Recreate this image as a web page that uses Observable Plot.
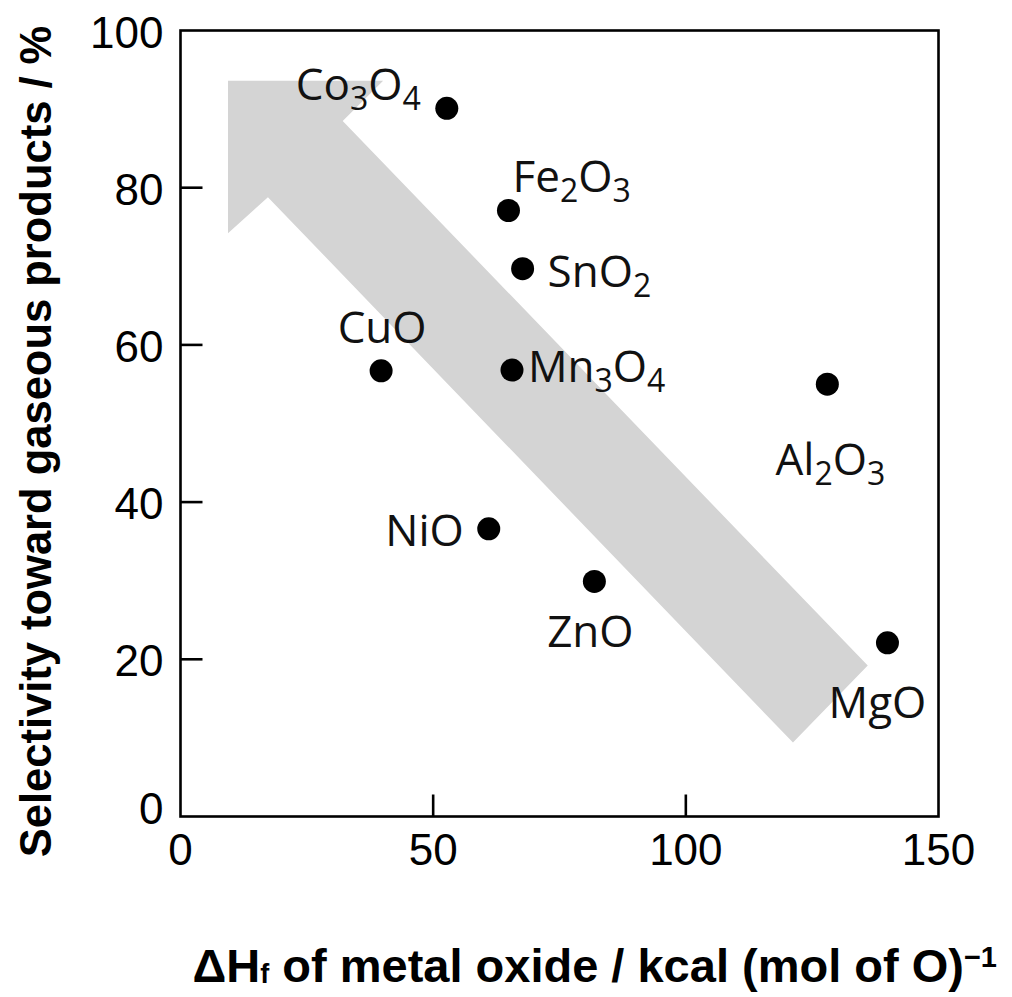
<!DOCTYPE html>
<html>
<head>
<meta charset="utf-8">
<script src="https://cdn.jsdelivr.net/npm/d3@7"></script>
<script src="https://cdn.jsdelivr.net/npm/@observablehq/plot@0.6"></script>
<style>
  html, body { margin: 0; padding: 0; background: #ffffff; }
  #chart svg { display: block; }
</style>
</head>
<body>
<div id="chart"></div>
<script>
// ---- data ----
const oxides      = ["Co3O4", "Fe2O3", "SnO2", "CuO", "Mn3O4", "Al2O3", "NiO", "ZnO", "MgO"];
const deltaHf     = [52.7, 64.9, 67.7, 39.7, 65.6, 128.0, 61.0, 81.9, 139.9];
const selectivity = [90.1, 77.1, 69.7, 56.7, 56.8, 55.0, 36.6, 29.9, 22.1];
const xTicks = [0, 50, 100, 150];
const yTicks = [0, 20, 40, 60, 80, 100];
// trend arrow outline (data units)
const arrowX = [9.4, 40.1, 32.1, 136.0, 121.2, 17.3, 9.4];
const arrowY = [93.6, 93.6, 88.5, 19.2, 9.4, 78.8, 74.2];
const xTitle = "ΔHf of metal oxide / kcal (mol of O)−1";
const yTitle = "Selectivity toward gaseous products / %";

// ---- label placement (styling, pixel offsets from each dot) ----
const labelLayout = {
  Co3O4: {anchor: "end",    dx: -26, dy: -8},
  Fe2O3: {anchor: "start",  dx: 4,   dy: -18},
  SnO2:  {anchor: "start",  dx: 25,  dy: 18},
  CuO:   {anchor: "middle", dx: 1,   dy: -28},
  Mn3O4: {anchor: "start",  dx: 16,  dy: 12},
  Al2O3: {anchor: "middle", dx: 3,   dy: 91},
  NiO:   {anchor: "end",    dx: -25, dy: 17},
  ZnO:   {anchor: "middle", dx: -4,  dy: 66},
  MgO:   {anchor: "middle", dx: -10, dy: 75}
};

const W = 1012, H = 997, mL = 180, mR = 74, mT = 30, mB = 181;
const idx = oxides.map((_, i) => i);
const arrowIdx = arrowX.map((_, i) => i);
const axisFont = "'Liberation Sans', Arial, Helvetica, sans-serif";
const labelFont = "'Open Sans', 'Noto Sans', sans-serif";
const tickLen = 22;
const xDomain = [xTicks[0], xTicks[xTicks.length - 1]];
const yDomain = [yTicks[0], yTicks[yTicks.length - 1]];
// inward tick length expressed in data units of each scale
const tickDX = tickLen * (xDomain[1] - xDomain[0]) / (W - mL - mR);
const tickDY = tickLen * (yDomain[1] - yDomain[0]) / (H - mT - mB);

const labelMarks = idx.map(i => {
  const L = labelLayout[oxides[i]];
  return Plot.text([i], {
    x: j => deltaHf[j], y: j => selectivity[j], text: j => oxides[j],
    textAnchor: L.anchor, lineAnchor: "bottom", dx: L.dx, dy: L.dy,
    fontSize: 44, fontFamily: labelFont, fill: "#111"
  });
});

const chart = Plot.plot({
  width: W,
  height: H,
  marginLeft: mL,
  marginRight: mR,
  marginTop: mT,
  marginBottom: mB,
  x: {domain: xDomain},
  y: {domain: yDomain},
  style: {fontFamily: axisFont, background: "#ffffff", color: "#000000"},
  marks: [
    Plot.line(arrowIdx, {x: i => arrowX[i], y: i => arrowY[i], fill: "#d4d4d4", stroke: "none", curve: "linear-closed"}),
    Plot.frame({stroke: "#000", strokeWidth: 2.6}),
    Plot.axisY(yTicks.slice(1), {tickSize: 0, tickPadding: 17, fontSize: 44, dy: 3, label: null}),
    Plot.axisY([0], {tickSize: 0, tickPadding: 17, fontSize: 44, dy: -7, label: null}),
    Plot.axisX(xTicks, {tickSize: 0, tickPadding: 17, fontSize: 44, label: null}),
    Plot.dot(idx, {x: i => deltaHf[i], y: i => selectivity[i], r: 11.5, fill: "#000", stroke: "none"}),
    ...labelMarks,
    Plot.text([yTitle], {text: d => d, frameAnchor: "left", rotate: -90, textAnchor: "middle", lineAnchor: "bottom",
      dx: -130, dy: 18, fontSize: 43.5, fontWeight: "bold", fontFamily: axisFont}),
    Plot.text([xTitle], {text: d => d, frameAnchor: "bottom-left", textAnchor: "start", lineAnchor: "bottom",
      dx: 12, dy: 165, fontSize: 47, fontWeight: "bold", fontFamily: axisFont}),
    // inward ticks, drawn last
    Plot.link(yTicks.slice(1, -1), {x1: () => xDomain[0], x2: () => xDomain[0] + tickDX, y1: d => d, y2: d => d,
      stroke: "#000", strokeWidth: 2.6}),
    Plot.link(xTicks.slice(1, -1), {x1: d => d, x2: d => d, y1: () => yDomain[0], y2: () => yDomain[0] + tickDY,
      stroke: "#000", strokeWidth: 2.6})
  ]
});

// ---- rich text: chemical subscripts, ΔHf subscript, exponent ----
const NS = "http://www.w3.org/2000/svg";
function setRuns(el, runs) {
  while (el.firstChild) el.removeChild(el.firstChild);
  let shift = 0;
  for (const r of runs) {
    const t = document.createElementNS(NS, "tspan");
    const target = r.shift || 0;
    if (target !== shift) { t.setAttribute("dy", (target - shift) + "px"); shift = target; }
    if (r.size) t.setAttribute("font-size", r.size + "px");
    t.textContent = r.t;
    el.appendChild(t);
  }
}
chart.querySelectorAll("text").forEach(el => {
  const s = el.textContent;
  if (oxides.includes(s)) {
    const runs = s.split(/(\d+)/).filter(p => p.length).map(p => /^\d+$/.test(p) ? {t: p, size: 32, shift: 10} : {t: p});
    setRuns(el, runs);
  } else if (s === xTitle) {
    setRuns(el, [
      {t: "ΔH"},
      {t: "f", size: 27, shift: 1},
      {t: " of metal oxide / kcal (mol of O)"},
      {t: "−1", size: 29, shift: -15}
    ]);
  }
});

document.getElementById("chart").appendChild(chart);
</script>
</body>
</html>
